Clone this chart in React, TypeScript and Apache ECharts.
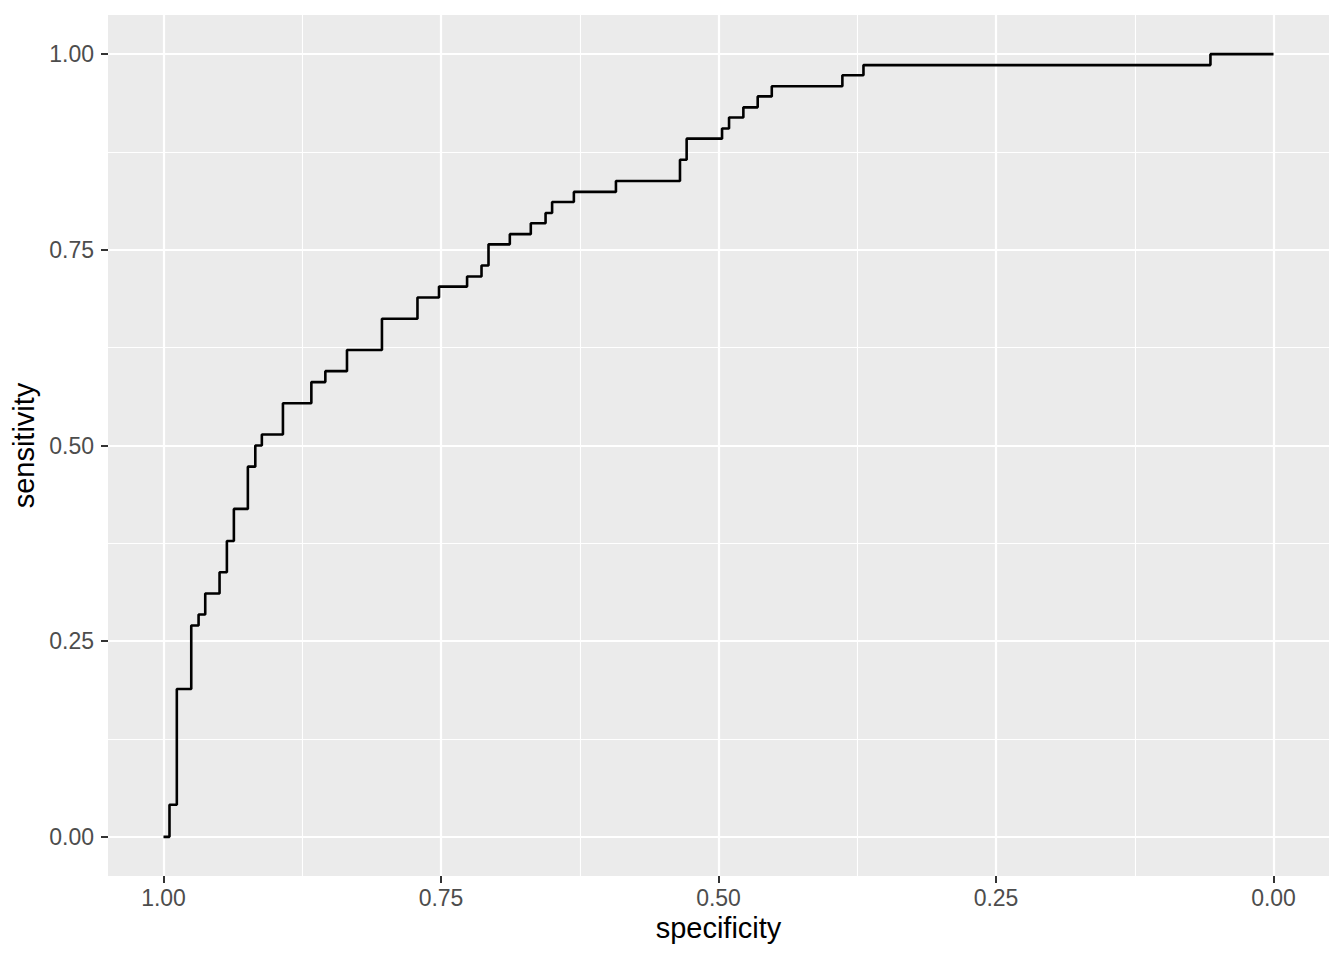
import React, { useEffect, useRef } from "react";
import * as echarts from "echarts";

const specificity = [1.0, 0.9946, 0.988, 0.975, 0.9684, 0.9624, 0.9495, 0.9429, 0.9366, 0.924, 0.9173, 0.9114, 0.8924, 0.8668, 0.8542, 0.8347, 0.8032, 0.7712, 0.7518, 0.7265, 0.7135, 0.7072, 0.688, 0.6691, 0.6558, 0.6499, 0.6303, 0.5924, 0.5347, 0.5287, 0.4968, 0.4905, 0.4776, 0.4647, 0.452, 0.3884, 0.3694, 0.0568, 0.0];
const sensitivity = [0, 0.041, 0.189, 0.27, 0.284, 0.311, 0.338, 0.378, 0.419, 0.473, 0.5, 0.514, 0.554, 0.581, 0.595, 0.622, 0.662, 0.689, 0.703, 0.716, 0.73, 0.757, 0.77, 0.784, 0.797, 0.811, 0.824, 0.838, 0.865, 0.892, 0.905, 0.919, 0.932, 0.946, 0.959, 0.973, 0.986, 1.0, 1.0];
const tickValues = [0, 0.25, 0.5, 0.75, 1];

const FONT = '"Liberation Sans", Arial, Helvetica, sans-serif';

export default function App() {
  const ref = useRef<HTMLDivElement>(null);
  useEffect(() => {
    if (!ref.current) return;
    const chart = echarts.init(ref.current, undefined, { renderer: "svg" });
    const axisCommon = (name: string) => ({
      type: "value" as const,
      min: -0.05,
      max: 1.05,
      minInterval: 0.25,
      maxInterval: 0.25,
      name,
      nameLocation: "middle" as const,
      nameTextStyle: { color: "#000000", fontSize: 29, fontFamily: FONT },
      axisLine: { show: false, onZero: false },
      axisTick: {
        show: true,
        length: 7,
        customValues: tickValues,
        lineStyle: { color: "#333333", width: 2 },
      },
      axisLabel: {
        color: "#4D4D4D",
        fontSize: 23,
        fontFamily: FONT,
        customValues: tickValues,
        formatter: (v: number) => v.toFixed(2),
      },
      splitLine: { show: true, lineStyle: { color: "#FFFFFF", width: 2.2 } },
      minorTick: { show: false, splitNumber: 2 },
      minorSplitLine: { show: true, lineStyle: { color: "#FFFFFF", width: 1.1 } },
    });
    const xAxis: any = axisCommon("specificity");
    xAxis.inverse = true;
    xAxis.position = "bottom";
    xAxis.nameGap = 37;
    xAxis.axisLabel.margin = 10;
    const yAxis: any = axisCommon("sensitivity");
    yAxis.position = "left";
    yAxis.nameGap = 64;
    yAxis.axisLabel.margin = 14;
    chart.setOption({
      animation: false,
      backgroundColor: "#FFFFFF",
      grid: {
        left: 108,
        top: 15,
        width: 1221,
        height: 861,
        show: true,
        backgroundColor: "#EBEBEB",
        borderWidth: 0,
        containLabel: false,
      },
      xAxis,
      yAxis,
      series: [
        {
          type: "line",
          step: "end",
          showSymbol: false,
          symbol: "none",
          data: specificity.map((s, i) => [s, sensitivity[i]]),
          lineStyle: { color: "#000000", width: 2.6 },
        },
      ],
    });
    return () => chart.dispose();
  }, []);
  return (
    <div
      ref={ref}
      style={{ position: "fixed", left: 0, top: 0, width: 1344, height: 960, background: "#FFFFFF" }}
    />
  );
}
